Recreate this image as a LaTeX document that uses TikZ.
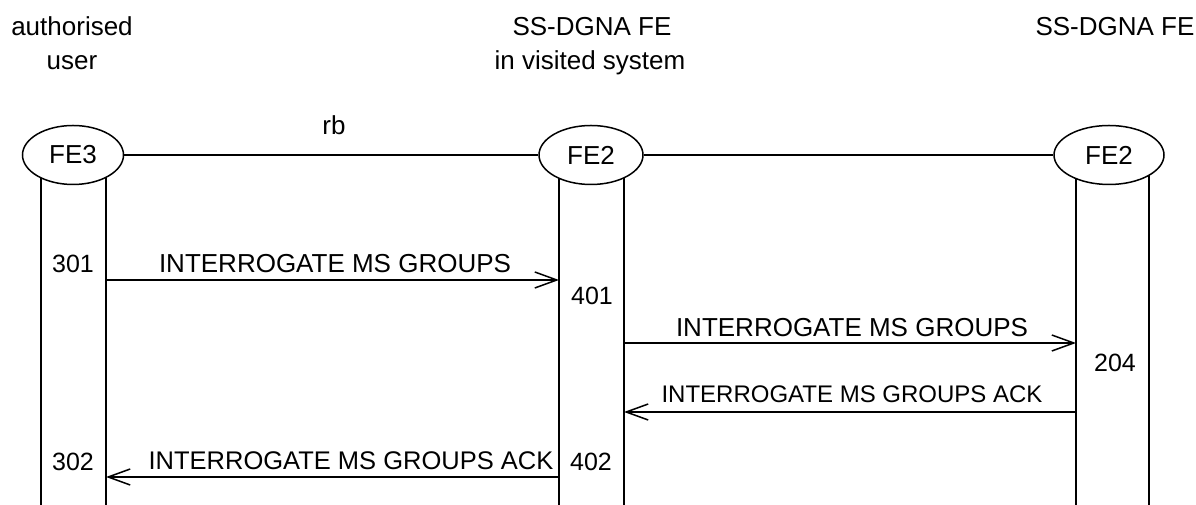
\documentclass[tikz,border=0pt]{standalone}
\usepackage{fontspec}
\setmainfont{Liberation Sans}
\usetikzlibrary{arrows.meta,shapes.geometric,backgrounds}

\begin{document}
\begin{tikzpicture}[x=1pt,y=1pt]
\tikzset{every path/.style={line width=1.5pt}}
\tikzset{fe/.style={draw,ellipse,fill=white,inner sep=0pt,minimum height=59pt,font=\fontsize{26}{30}\selectfont}}
\tikzset{lbl/.style={anchor=base,inner sep=0pt,font=\fontsize{26}{30}\selectfont}}
\tikzset{num/.style={anchor=base,inner sep=0pt,font=\fontsize{25}{30}\selectfont}}
\tikzset{msg/.style={-{Straight Barb[length=22pt,width=16pt,line width=1.5pt]}}}

\useasboundingbox (0,0) rectangle (1196,505);

\node[lbl] (t1a) at (72,469) {authorised};
\node[lbl] (t1b) at (72,435) {user};
\node[lbl] (t2a) at (592,469) {SS-DGNA FE};
\node[lbl] (t2b) at (590,435) {in visited system};
\node[lbl] (t3a) at (1115,469) {SS-DGNA FE};

\node[fe,minimum width=101pt] (fe3) at (73,350) {FE3};
\node[fe,minimum width=104pt] (fe2a) at (591,350) {FE2};
\node[fe,minimum width=110pt] (fe2b) at (1109,350) {FE2};

\draw (fe3) -- (fe2a);
\draw (fe2a) -- (fe2b);
\node[lbl] (rb) at (334,370) {rb};

\coordinate (bot) at (0,0);
\coordinate (u1) at (41,350);
\coordinate (u2) at (106,350);
\coordinate (v1) at (559,350);
\coordinate (v2) at (624,350);
\coordinate (w1) at (1076,350);
\coordinate (w2) at (1149,350);
\begin{scope}[on background layer]
\foreach \l in {u1,u2,v1,v2,w1,w2}
  \draw (\l) -- (\l |- bot);
\end{scope}

\coordinate (r1) at (0,225);
\coordinate (r2) at (0,162);
\coordinate (r3) at (0,93);
\coordinate (r4) at (0,28);

\draw[msg] (u2 |- r1) -- (v1 |- r1);
\draw[msg] (v2 |- r2) -- (w1 |- r2);
\draw[msg] (w1 |- r3) -- (v2 |- r3);
\draw[msg] (v1 |- r4) -- (u2 |- r4);

\node[lbl] (m1) at (335,232) {INTERROGATE MS GROUPS};
\node[lbl] (m2) at (852,168) {INTERROGATE MS GROUPS};
\node[lbl,font=\fontsize{24}{28}\selectfont] (m3) at (852,102) {INTERROGATE MS GROUPS ACK};
\node[lbl,font=\fontsize{25.5}{30}\selectfont] (m4) at (351,35) {INTERROGATE MS GROUPS ACK};

\node[num] (n301) at (73,232) {301};
\node[num] (n401) at (592,200) {401};
\node[num] (n204) at (1115,133) {204};
\node[num] (n302) at (73,34) {302};
\node[num] (n402) at (591,34) {402};

\end{tikzpicture}
\end{document}
